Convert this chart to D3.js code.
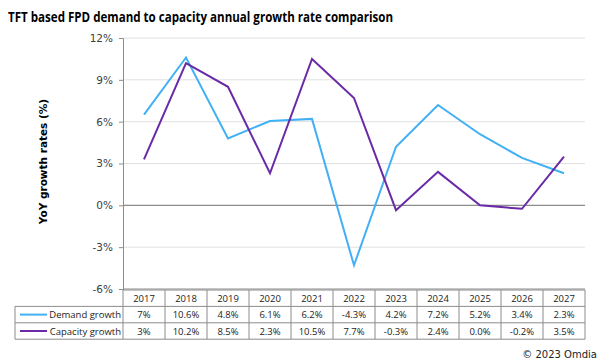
<!DOCTYPE html>
<html>
<head>
<meta charset="utf-8">
<script src="https://cdn.jsdelivr.net/npm/d3@7"></script>
<style>
  body { margin: 0; background: #fff; }
  svg { display: block; }
</style>
</head>
<body>
<div id="chart"></div>
<script>
var years = ['2017', '2018', '2019', '2020', '2021', '2022', '2023', '2024', '2025', '2026', '2027'];
var demand = [6.5, 10.6, 4.8, 6.05, 6.2, -4.3, 4.2, 7.2, 5.1, 3.4, 2.3];
var capacity = [3.3, 10.2, 8.5, 2.3, 10.5, 7.7, -0.35, 2.4, 0.0, -0.25, 3.5];
var demandLabels = ['7%', '10.6%', '4.8%', '6.1%', '6.2%', '-4.3%', '4.2%', '7.2%', '5.2%', '3.4%', '2.3%'];
var capacityLabels = ['3%', '10.2%', '8.5%', '2.3%', '10.5%', '7.7%', '-0.3%', '2.4%', '0.0%', '-0.2%', '3.5%'];
var yTicks = [-6, -3, 0, 3, 6, 9, 12];

var series = [
    {name: 'Demand growth', values: demand, labels: demandLabels, color: '#41b0f5'},
    {name: 'Capacity growth', values: capacity, labels: capacityLabels, color: '#6a2aa6'}
];

var svg = d3.select('#chart').append('svg')
    .attr('width', 602)
    .attr('height', 364);

var plotLeft = 123, plotRight = 585, plotTop = 38, plotBottom = 289;

var x = d3.scaleBand()
    .domain(years)
    .range([plotLeft, plotRight]);

var y = d3.scaleLinear()
    .domain([-6, 12])
    .range([plotBottom, plotTop]);

// title
svg.append('text')
    .attr('x', 8)
    .attr('y', 22)
    .attr('font-family', 'Open Sans')
    .attr('font-weight', 'bold')
    .attr('font-size', '13.5px')
    .attr('textLength', 385)
    .attr('lengthAdjust', 'spacingAndGlyphs')
    .attr('fill', '#000')
    .text('TFT based FPD demand to capacity annual growth rate comparison');

// gridlines
svg.append('g')
    .selectAll('line')
    .data(yTicks)
    .enter()
    .append('line')
    .attr('x1', plotLeft)
    .attr('x2', plotRight)
    .attr('y1', function(d) { return y(d); })
    .attr('y2', function(d) { return y(d); })
    .attr('stroke', function(d) { return d === 0 || d === -6 ? '#8c8c8c' : '#e0e0e0'; })
    .attr('stroke-width', function(d) { return d === 0 ? 1.2 : 1; });

// y axis
var yAxis = svg.append('g')
    .attr('transform', 'translate(' + plotLeft + ',0)')
    .call(d3.axisLeft(y)
        .tickValues(yTicks)
        .tickSize(4)
        .tickFormat(function(d) { return d + '%'; }));

yAxis.select('.domain').attr('stroke', '#8c8c8c');
yAxis.selectAll('.tick line').attr('stroke', '#8c8c8c');
yAxis.selectAll('.tick text')
    .attr('x', -10)
    .attr('font-family', 'DejaVu Sans')
    .attr('font-size', '10.5px')
    .attr('fill', '#404040');

svg.append('text')
    .attr('transform', 'translate(47,' + ((plotTop + plotBottom) / 2 - 2) + ') rotate(-90)')
    .attr('text-anchor', 'middle')
    .attr('font-family', 'DejaVu Sans')
    .attr('font-weight', 'bold')
    .attr('font-size', '10.5px')
    .attr('fill', '#000')
    .text('YoY growth rates (%)');

// lines
var line = d3.line()
    .x(function(d, i) { return x(years[i]) + x.bandwidth() / 2; })
    .y(function(d) { return y(d); });

svg.append('g')
    .selectAll('path')
    .data(series)
    .enter()
    .append('path')
    .attr('d', function(d) { return line(d.values); })
    .attr('fill', 'none')
    .attr('stroke', function(d) { return d.color; })
    .attr('stroke-width', 2);

// data table
var rowH = 16.4;
var tableTop = plotBottom + 1;
var tableLeft = 15;
var table = svg.append('g')
    .attr('font-family', 'Open Sans')
    .attr('font-size', '9.5px')
    .attr('fill', '#222');

// year header row
table.selectAll('.yr')
    .data(years)
    .enter()
    .append('text')
    .attr('class', 'yr')
    .attr('x', function(d) { return x(d) + x.bandwidth() / 2; })
    .attr('y', tableTop + rowH / 2 + 3.5)
    .attr('text-anchor', 'middle')
    .text(function(d) { return d; });

series.forEach(function(s, r) {
    var rowTop = tableTop + rowH * (r + 1);
    table.selectAll('.v' + r)
        .data(s.labels)
        .enter()
        .append('text')
        .attr('x', function(d, i) { return x(years[i]) + x.bandwidth() / 2; })
        .attr('y', rowTop + rowH / 2 + 3.5)
        .attr('text-anchor', 'middle')
        .text(function(d) { return d; });

    table.append('line')
        .attr('x1', 20)
        .attr('x2', 47)
        .attr('y1', rowTop + rowH / 2)
        .attr('y2', rowTop + rowH / 2)
        .attr('stroke', s.color)
        .attr('stroke-width', 2);

    table.append('text')
        .attr('x', plotLeft - 2)
        .attr('y', rowTop + rowH / 2 + 3.5)
        .attr('text-anchor', 'end')
        .text(s.name);
});

// table borders
var grid = svg.append('g')
    .attr('stroke', '#8c8c8c')
    .attr('stroke-width', 1)
    .attr('fill', 'none');

grid.append('line')
    .attr('x1', plotLeft).attr('x2', plotRight)
    .attr('y1', tableTop).attr('y2', tableTop);
[1, 2, 3].forEach(function(r) {
    grid.append('line')
        .attr('x1', tableLeft).attr('x2', plotRight)
        .attr('y1', tableTop + rowH * r).attr('y2', tableTop + rowH * r);
});
grid.append('line')
    .attr('x1', tableLeft).attr('x2', tableLeft)
    .attr('y1', tableTop + rowH).attr('y2', tableTop + rowH * 3);
grid.selectAll('.col')
    .data(years.concat(['end']))
    .enter()
    .append('line')
    .attr('x1', function(d, i) { return plotLeft + x.step() * i; })
    .attr('x2', function(d, i) { return plotLeft + x.step() * i; })
    .attr('y1', tableTop)
    .attr('y2', tableTop + rowH * 3);

// source
svg.append('text')
    .attr('x', 597)
    .attr('y', 358)
    .attr('text-anchor', 'end')
    .attr('font-family', 'DejaVu Sans')
    .attr('font-size', '10px')
    .attr('fill', '#222')
    .text('© 2023 Omdia');
</script>
</body>
</html>
